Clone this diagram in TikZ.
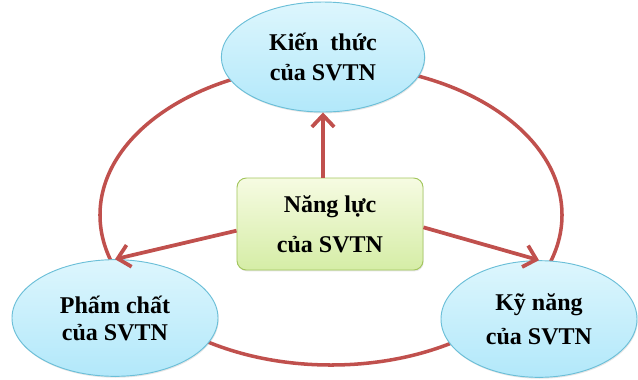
\documentclass[tikz,border=0pt]{standalone}
\usepackage{fontspec}
\setmainfont{Liberation Serif}
\usepackage{tikz}
\usetikzlibrary{arrows.meta, shapes.geometric, shadows}
\definecolor{loopred}{HTML}{C0504D}
\definecolor{ellborder}{HTML}{6BBFD8}
\definecolor{elltop}{HTML}{DDF6FD}
\definecolor{ellbot}{HTML}{B2E8FA}
\definecolor{boxborder}{HTML}{A3C65E}
\definecolor{boxtop}{HTML}{F6FBE2}
\definecolor{boxbot}{HTML}{D5EDA6}

\begin{document}
\begin{tikzpicture}[x=0.03cm, y=-0.03cm,
    goal/.style={ellipse, draw=ellborder, line width=0.8pt, top color=elltop, bottom color=ellbot,
        drop shadow={opacity=0.2, shadow xshift=0.6pt, shadow yshift=-1.2pt},
        inner sep=0pt, align=center, font=\fontsize{20.5}{24}\selectfont\bfseries},
    core/.style={rectangle, rounded corners=8pt, draw=boxborder, line width=0.8pt, top color=boxtop, bottom color=boxbot,
        drop shadow={opacity=0.2, shadow xshift=0.6pt, shadow yshift=-1.2pt},
        minimum width=5.58cm, minimum height=2.76cm, align=center, font=\fontsize{20.5}{24}\selectfont\bfseries},
    link/.style={draw=loopred, line width=3.2pt, -{Straight Barb[length=10pt, width=19pt]}}]
    \useasboundingbox (0,0) rectangle (638,379);
    \draw[draw=loopred, line width=3pt] (331,215) ellipse [x radius=6.93cm, y radius=4.5cm];
    \node[goal, minimum width=6.1cm, minimum height=3.3cm] (kienthuc) at (323,57) {Kiến\ \ thức\\[2pt]của SVTN};
    \node[goal, minimum width=6.18cm, minimum height=3.5cm] (phamchat) at (115,318) {Phấm chất\\[-1pt]của SVTN};
    \node[goal, minimum width=5.88cm, minimum height=3.5cm] (kynang) at (539,319) {Kỹ năng\\[5pt]của SVTN};
    \node[core] (nangluc) at (330,224) {Năng lực\\[10pt]của SVTN};
    \draw[link] (nangluc.north -| kienthuc.south) -- (kienthuc.south);
    \draw[link] ([yshift=-0.2cm]nangluc.west) -- (phamchat.north);
    \draw[link] ([yshift=-0.1cm]nangluc.east) -- (kynang.north);
\end{tikzpicture}
\end{document}
